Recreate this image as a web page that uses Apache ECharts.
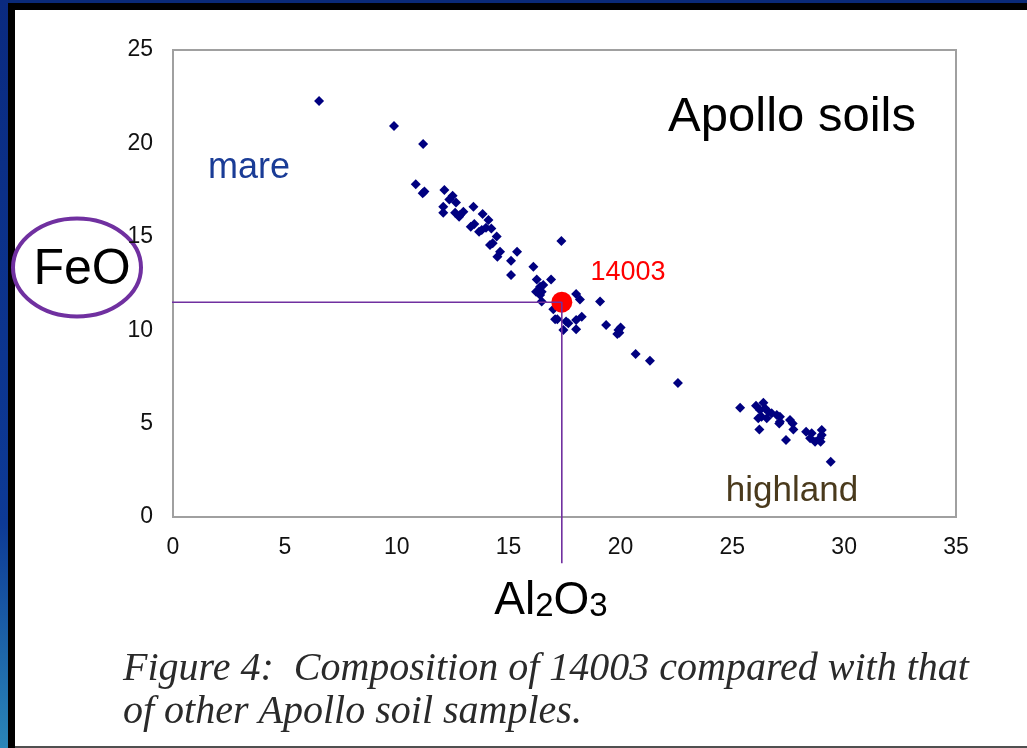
<!DOCTYPE html>
<html>
<head>
<meta charset="utf-8">
<style>
html,body{margin:0;padding:0;background:#fff;}
#chart{width:1027px;height:748px;}
</style>
<script src="https://cdn.jsdelivr.net/npm/echarts@6/dist/echarts.min.js"></script>
</head>
<body>
<div id="chart"></div>
<script>
// Apollo soil samples: Al2O3 (wt%) and FeO (wt%)
var soilAl2O3 = [6.53, 9.88, 11.18, 10.85, 11.16, 11.24, 12.13, 12.35, 12.50, 12.65,
  12.08, 12.08, 12.61, 12.83, 12.98, 12.79, 13.43, 13.84, 14.10, 13.31,
  13.47, 13.68, 13.80, 13.99, 14.23, 14.47, 14.17, 14.29, 14.62, 14.50,
  15.38, 15.11, 16.11, 15.11, 16.26, 16.90, 17.36, 16.55, 16.41, 16.23,
  16.48, 16.41, 16.48, 18.02, 18.19, 19.09, 17.00, 17.08, 17.18, 17.57,
  17.67, 18.02, 18.27, 17.45, 18.02, 19.36, 19.91, 20.01, 19.86, 19.95,
  20.68, 21.32, 22.57,
  25.35, 26.06, 26.39, 26.24, 26.46, 26.61, 26.76, 26.99, 27.13, 26.31,
  26.54, 26.16, 27.13, 27.10, 26.21, 27.58, 27.70, 27.73, 27.40, 28.30,
  28.55, 28.48, 28.70, 28.95, 29.00, 29.00, 28.92, 29.40];
var soilFeO = [22.27, 20.93, 19.97, 17.81, 17.33, 17.42, 17.50, 17.00, 17.20, 16.83,
  16.61, 16.29, 16.29, 16.17, 16.34, 16.08, 16.61, 16.22, 15.90, 15.54,
  15.69, 15.27, 15.36, 15.49, 15.45, 15.01, 14.56, 14.65, 14.20, 13.93,
  14.20, 13.72, 13.40, 12.95, 12.72, 12.72, 14.78, 12.42, 12.33, 12.06,
  12.06, 11.88, 11.53, 11.94, 11.65, 11.53, 11.12, 10.58, 10.58, 10.46,
  10.37, 10.55, 10.72, 10.01, 10.05, 10.28, 10.01, 10.15, 9.80, 9.87,
  8.73, 8.37, 7.17,
  5.85, 5.96, 6.12, 5.73, 5.82, 5.64, 5.55, 5.46, 5.37, 5.37,
  5.28, 5.28, 5.10, 5.01, 4.69, 5.19, 5.01, 4.69, 4.12, 4.57,
  4.48, 4.21, 4.03, 4.03, 4.66, 4.39, 4.21, 2.96];
// Sample 14003
var sampleAl2O3 = [17.38];
var sampleFeO = [11.5];
// Guide lines to the axes (extend past the plot frame)
var guideAl2O3 = [-0.68, 17.38, 17.38];
var guideFeO = [11.5, 11.5, -2.48];
var xTicks = {min: 0, max: 35, step: 5};
var yTicks = {min: 0, max: 25, step: 5};

function pairs(xs, ys) {
  var out = [];
  for (var i = 0; i < xs.length; i++) out.push([xs[i], ys[i]]);
  return out;
}

var chart = echarts.init(document.getElementById('chart'), null, {renderer: 'canvas'});
var sans = '"Liberation Sans", Arial, sans-serif';
var serif = '"Liberation Serif", "Times New Roman", serif';

chart.setOption({
  backgroundColor: '#ffffff',
  animation: false,
  grid: {
    left: 173, right: 71, top: 50, bottom: 231,
    show: true, borderColor: '#a0a0a0', borderWidth: 2, backgroundColor: 'transparent'
  },
  xAxis: {
    type: 'value', min: xTicks.min, max: xTicks.max, interval: xTicks.step,
    axisLine: {show: false}, axisTick: {show: false}, splitLine: {show: false},
    axisLabel: {margin: 19, fontSize: 23, fontFamily: sans, color: '#111111'}
  },
  yAxis: {
    type: 'value', min: yTicks.min, max: yTicks.max, interval: yTicks.step,
    axisLine: {show: false}, axisTick: {show: false}, splitLine: {show: false},
    axisLabel: {margin: 20, fontSize: 23, fontFamily: sans, color: '#111111', padding: [0, 0, 7, 0]}
  },
  series: [
    {
      name: 'Apollo soils', type: 'scatter', symbol: 'diamond', symbolSize: 10,
      itemStyle: {color: '#000080', opacity: 1}, data: pairs(soilAl2O3, soilFeO), z: 2
    },
    {
      name: '14003', type: 'scatter', symbol: 'circle', symbolSize: 21,
      itemStyle: {color: '#ff0000', opacity: 1}, data: pairs(sampleAl2O3, sampleFeO), z: 3
    },
    {
      name: 'guide', type: 'line', clip: false, symbol: 'none', silent: true,
      lineStyle: {color: '#7030a0', width: 1.6}, data: pairs(guideAl2O3, guideFeO), z: 5
    }
  ],
  graphic: [
    // frame
    {type: 'rect', shape: {x: 0, y: 0, width: 1027, height: 3}, style: {fill: '#0a2a78'}, silent: true},
    {type: 'rect', shape: {x: 0, y: 3, width: 1027, height: 7}, style: {fill: '#000000'}, silent: true},
    {type: 'rect', shape: {x: 0, y: 0, width: 8, height: 748}, silent: true,
      style: {fill: new echarts.graphic.LinearGradient(0, 0, 0, 1, [
        {offset: 0, color: '#0a2a80'}, {offset: 0.7, color: '#0d3a96'}, {offset: 1, color: '#2a86b8'}])}},
    {type: 'rect', shape: {x: 8, y: 3, width: 7, height: 745}, style: {fill: '#000000'}, silent: true},
    {type: 'rect', shape: {x: 15, y: 746, width: 1012, height: 2}, style: {fill: '#505050'}, silent: true},
    // annotations
    {type: 'text', x: 792, y: 117, style: {text: 'Apollo soils', font: '49px ' + sans, fill: '#000000', align: 'center', verticalAlign: 'middle'}},
    {type: 'text', x: 249, y: 168, style: {text: 'mare', font: '36px ' + sans, fill: '#1a3c96', align: 'center', verticalAlign: 'middle'}},
    {type: 'text', x: 792, y: 491, style: {text: 'highland', font: '35px ' + sans, fill: '#4a3a1c', align: 'center', verticalAlign: 'middle'}},
    {type: 'text', x: 628, y: 273, style: {text: '14003', font: '27px ' + sans, fill: '#ff0000', align: 'center', verticalAlign: 'middle'}},
    {type: 'text', x: 82, y: 270, style: {text: 'FeO', font: '50px ' + sans, fill: '#000000', align: 'center', verticalAlign: 'middle'}},
    {type: 'ellipse', shape: {cx: 77, cy: 267.5, rx: 64, ry: 49}, style: {fill: 'none', stroke: '#7030a0', lineWidth: 4}},
    {type: 'text', x: 551, y: 598, style: {
      text: '{a|Al}{s|2}{a|O}{s|3}', align: 'center', verticalAlign: 'middle',
      rich: {
        a: {fontSize: 46, fontFamily: sans, fill: '#000000', verticalAlign: 'bottom', lineHeight: 52},
        s: {fontSize: 33, fontFamily: sans, fill: '#000000', verticalAlign: 'bottom', lineHeight: 52, padding: [0, 0, 1, 0]}
      }
    }},
    {type: 'text', x: 123, y: 669, style: {text: 'Figure 4:  Composition of 14003 compared with that', font: 'italic 40px ' + serif, fill: '#2a2a2a', align: 'left', verticalAlign: 'middle'}},
    {type: 'text', x: 123, y: 712, style: {text: 'of other Apollo soil samples.', font: 'italic 40px ' + serif, fill: '#2a2a2a', align: 'left', verticalAlign: 'middle'}}
  ]
});
</script>
</body>
</html>
